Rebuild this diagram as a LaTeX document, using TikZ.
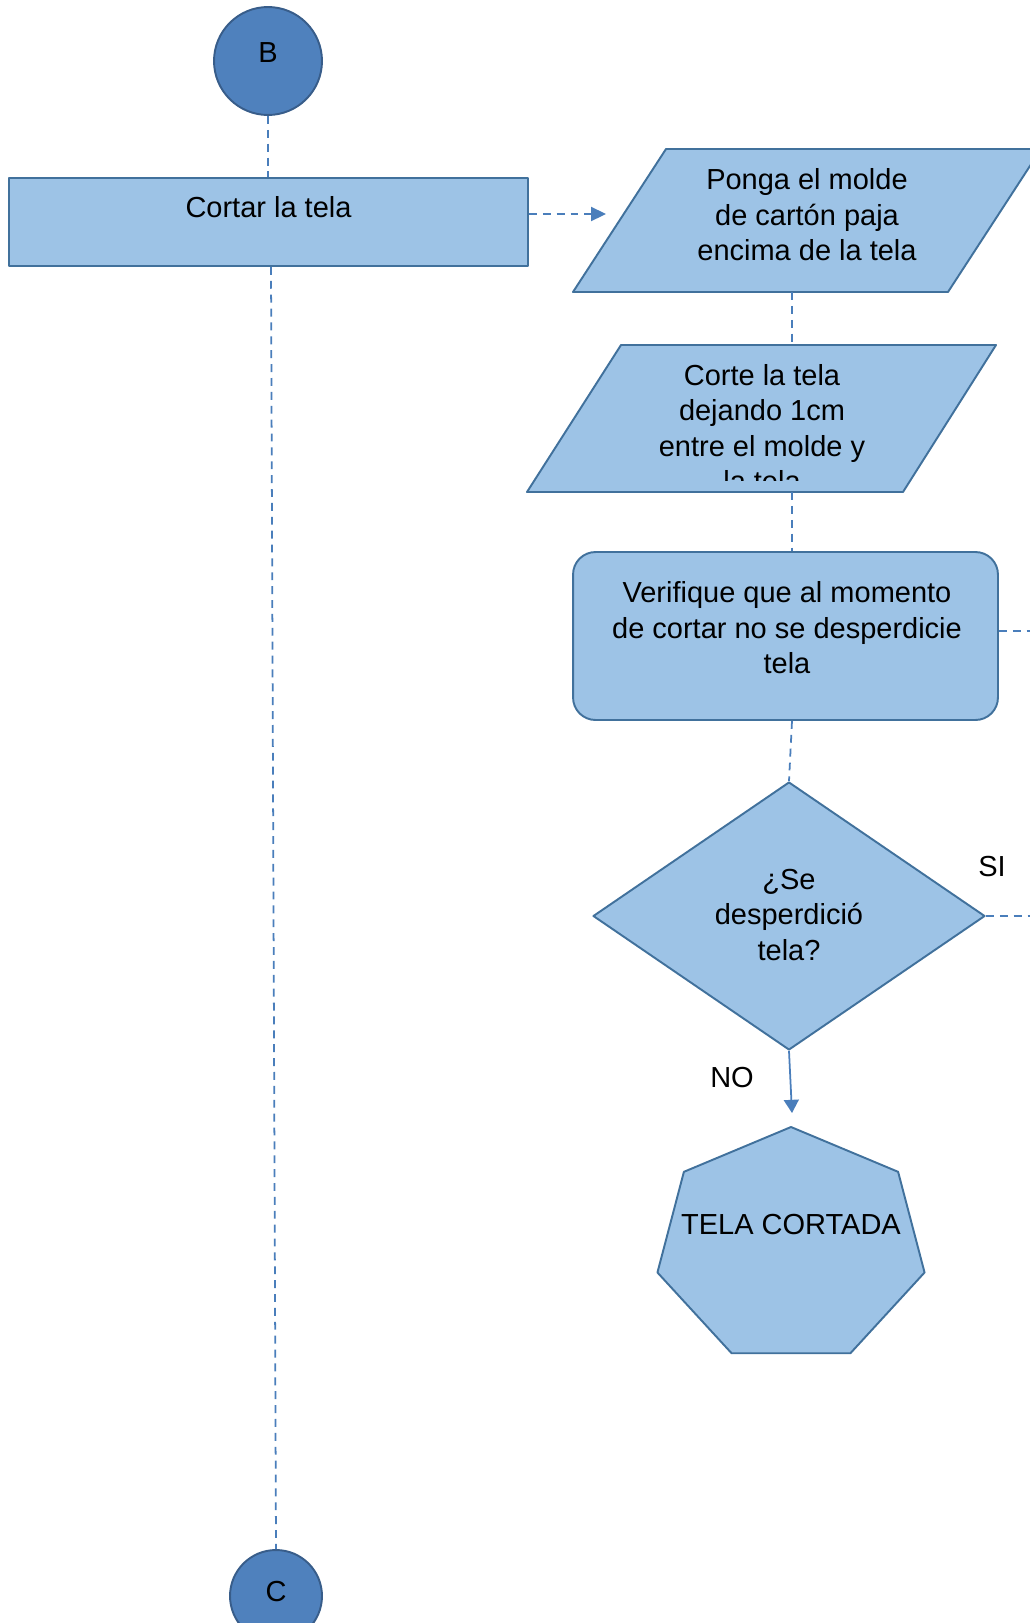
\documentclass[tikz,border=0pt]{standalone}
\usepackage{fontspec}
\setmainfont{Liberation Sans}
\usetikzlibrary{shapes.geometric,arrows.meta}

\definecolor{boxfill}{RGB}{157,195,230}
\definecolor{boxline}{RGB}{65,113,156}
\definecolor{connfill}{RGB}{79,129,189}
\definecolor{connline}{RGB}{56,93,138}
\definecolor{linkblue}{RGB}{74,126,187}

\tikzset{
  flow/.style={draw=boxline, fill=boxfill, line width=1.1pt, line join=round},
  conn/.style={circle, draw=connline, fill=connfill, line width=1.1pt, inner sep=0pt},
  link/.style={draw=linkblue, line width=1pt, dash pattern=on 4.5pt off 3.4pt},
  txt/.style={align=center, inner sep=0pt, font=\fontsize{16.5}{20.2}\selectfont},
}

\begin{document}
\begin{tikzpicture}[x=0.02cm, y=-0.02cm]
\useasboundingbox (0,0) rectangle (1029,1623);

% connectors B and C
\node[conn, minimum size=2.16cm] (B) at (268,61) {};
\node[txt] (B-t) at (268,53) {B};
\node[conn, minimum size=1.84cm] (C) at (276,1596) {};
\node[txt] (C-t) at (276,1592) {C};

% left column
\node[flow, rectangle, minimum width=10.38cm, minimum height=1.76cm] (cortar) at (268.5,222) {};
\node[txt] (cortar-t) at (268.5,207) {Cortar la tela};

% right column
\draw[flow] (573,292) -- (666,149) -- (1041,149) -- (948,292) -- cycle;
\coordinate (ponga-bot) at (792,292);
\node[txt] (ponga-t) at (807,215) {Ponga el molde\\de cartón paja\\encima de la tela};

\draw[flow] (527,492) -- (621,345) -- (996,345) -- (903,492) -- cycle;
\coordinate (corte-top) at (792,345);
\coordinate (corte-bot) at (792,492);
\begin{scope}
\clip (500,330) rectangle (1000,480);
\node[txt] (corte-t) at (762,428) {Corte la tela\\dejando 1cm\\entre el molde y\\la tela};
\end{scope}

\node[flow, rectangle, rounded corners=0.45cm, minimum width=8.5cm, minimum height=3.36cm] (verif) at (785.5,636) {};
\node[txt] (verif-t) at (787,628) {Verifique que al momento\\de cortar no se desperdicie\\tela};

\node[flow, diamond, minimum width=7.84cm, minimum height=5.36cm, inner sep=0pt] (decide) at (789,916) {};
\node[txt] (decide-t) at (789,915) {¿Se\\desperdició\\tela?};

% heptagon
\draw[flow] plot[samples at={0,...,6}, variable=\k]
  ({791+137*cos(-90+\k*360/7)}, {1246+119*sin(-90+\k*360/7)}) -- cycle;
\node[txt] (fin) at (791,1225) {TELA CORTADA};

\node[txt] (si) at (992,867) {SI};
\node[txt] (no) at (732,1078) {NO};

% links
\coordinate (spine) at (792,0);
\coordinate (pongain) at (606,214);
\coordinate (offA) at (1040,631);
\coordinate (offB) at (1040,916);
\coordinate (finin) at (792,1113);

\draw[link] (B.south) -- (B.south |- cortar.north);
\draw[link] ([xshift=0.05cm]cortar.south) -- (C.north);
\draw[link, -{Triangle[length=8.5pt, width=8pt]}] (cortar.east |- pongain) -- (pongain);
\draw[link] (ponga-bot) -- (corte-top);
\draw[link] (corte-bot) -- (verif.north -| spine);
\draw[link] (verif.south -| spine) -- (decide.north);
\draw[link] (verif.east |- offA) -- (offA);
\draw[link] (decide.east) -- (offB);
\draw[linkblue, line width=1pt, -{Triangle[length=7.5pt, width=8.5pt]}] (decide.south) -- (finin);
\end{tikzpicture}
\end{document}
